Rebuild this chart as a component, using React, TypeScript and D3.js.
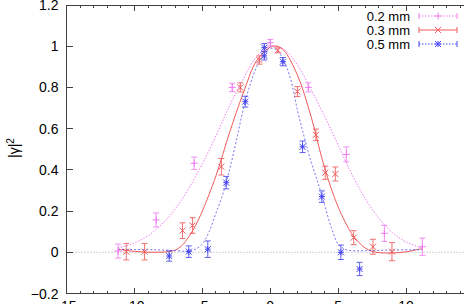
import React from 'react';
import * as d3 from 'd3';

const W = 464;
const H = 304;

// measured points
const pinkX = [-11.2, -8.4, -5.6, -2.8, 0, 2.8, 5.6, 8.4, 11.2];
const pinkY = [0.006, 0.157, 0.432, 0.8, 1.017, 0.8, 0.475, 0.092, 0.027];
const pinkErr = [0.034, 0.034, 0.03, 0.02, 0.016, 0.022, 0.036, 0.039, 0.042];

const redX = [-10.6, -9.25, -6.46, -5.72, -3.6, -2.2, -0.8, 0.56, 2.0, 3.36, 4.05, 4.79, 6.14, 7.56, 8.96];
const redY = [0.003, 0.003, 0.105, 0.13, 0.415, 0.8, 0.933, 0.98, 0.78, 0.57, 0.386, 0.38, 0.071, 0.027, 0.003];
const redErr = [0.04, 0.04, 0.038, 0.038, 0.04, 0.022, 0.02, 0.012, 0.024, 0.028, 0.032, 0.034, 0.034, 0.036, 0.044];

const blueX = [-7.44, -6.0, -4.6, -3.24, -1.84, -0.44, -0.44, 0.93, 2.38, 3.8, 5.2, 6.58];
const blueY = [-0.018, 0.003, 0.015, 0.338, 0.731, 0.993, 0.953, 0.925, 0.512, 0.27, 0.0, -0.081];
const blueErr = [0.025, 0.028, 0.04, 0.03, 0.026, 0.02, 0.02, 0.02, 0.028, 0.028, 0.035, 0.032];

// fitted curves
const pinkFitX = [-11.2, -10, -9, -8, -7, -6, -5, -4, -3, -2, -1, 0, 1, 2, 3, 4, 5, 6, 7, 8, 9, 10, 11.2];
const pinkFitY = [0.02, 0.045, 0.08, 0.135, 0.21, 0.31, 0.43, 0.565, 0.71, 0.84, 0.95, 1.0, 0.985, 0.91, 0.79, 0.66, 0.52, 0.38, 0.26, 0.165, 0.095, 0.05, 0.02];

const redFitX = [-11.2, -10.5, -9.5, -8.5, -7.5, -7, -6.5, -6, -5.5, -5, -4, -3, -2, -1, 0, 0.5, 1, 2, 3, 4, 5, 6, 6.5, 7, 7.5, 8, 9, 10, 10.6, 11.2];
const redFitY = [0.015, 0.008, 0.002, 0.0, 0.003, 0.01, 0.033, 0.075, 0.13, 0.2, 0.37, 0.58, 0.77, 0.93, 0.995, 1.0, 0.98, 0.86, 0.66, 0.41, 0.22, 0.09, 0.05, 0.02, 0.005, -0.002, -0.003, 0.002, 0.01, 0.018];

const blueFitX = [-11.2, -9, -8, -7, -6, -5.5, -5, -4.5, -4, -3.5, -3, -2.5, -2, -1.5, -1, -0.5, 0, 0.5, 1, 1.5, 2, 2.5, 3, 3.5, 4, 4.5, 5, 5.5, 6, 7, 9, 11.2];
const blueFitY = [0.014, 0.013, 0.011, 0.008, 0.006, 0.015, 0.04, 0.1, 0.19, 0.28, 0.4, 0.54, 0.69, 0.81, 0.9, 0.96, 0.99, 0.98, 0.93, 0.84, 0.69, 0.56, 0.44, 0.34, 0.23, 0.12, 0.04, 0.015, 0.008, 0.008, 0.011, 0.013];

const xTicks = [-15, -10, -5, 0, 5, 10, 15];
const yTicks = [-0.2, 0, 0.2, 0.4, 0.6, 0.8, 1, 1.2];
const legendLabels = ['0.2 mm', '0.3 mm', '0.5 mm'];

const PINK = '#f07cf0';
const RED = '#f05a5a';
const BLUE = '#4646f0';
const FONT = '"Liberation Sans", Arial, Helvetica, sans-serif';

const x = d3.scaleLinear().domain([-15, 15]).range([66.5, 474]);
const y = d3.scaleLinear().domain([-0.2, 1.2]).range([293.5, 5]);

const line = d3
  .line<[number, number]>()
  .x((d) => x(d[0]))
  .y((d) => y(d[1]))
  .curve(d3.curveCatmullRom.alpha(0.5));

function zip(a: number[], b: number[]): [number, number][] {
  return a.map((v, i) => [v, b[i]] as [number, number]);
}

function Marker({ cx, cy, kind, color }: { cx: number; cy: number; kind: string; color: string }) {
  const s = 3;
  if (kind === 'plus') {
    return (
      <g stroke={color} strokeWidth={1}>
        <line x1={cx - s - 0.5} x2={cx + s + 0.5} y1={cy} y2={cy} />
        <line x1={cx} x2={cx} y1={cy - s - 0.5} y2={cy + s + 0.5} />
      </g>
    );
  }
  if (kind === 'cross') {
    return (
      <g stroke={color} strokeWidth={1}>
        <line x1={cx - s} x2={cx + s} y1={cy - s} y2={cy + s} />
        <line x1={cx - s} x2={cx + s} y1={cy + s} y2={cy - s} />
      </g>
    );
  }
  return (
    <g stroke={color} strokeWidth={1}>
      <line x1={cx - s} x2={cx + s} y1={cy - s} y2={cy + s} />
      <line x1={cx - s} x2={cx + s} y1={cy + s} y2={cy - s} />
      <line x1={cx - s} x2={cx + s} y1={cy} y2={cy} />
      <line x1={cx} x2={cx} y1={cy - s} y2={cy + s} />
    </g>
  );
}

function Series({ xs, ys, es, kind, color }: { xs: number[]; ys: number[]; es: number[]; kind: string; color: string }) {
  return (
    <g>
      {xs.map((xv, i) => {
        const cx = x(xv);
        const y1 = y(ys[i] - es[i]);
        const y2 = y(ys[i] + es[i]);
        return (
          <g key={i}>
            <g stroke={color} strokeWidth={1} opacity={0.85}>
              <line x1={cx} x2={cx} y1={y1} y2={y2} />
              <line x1={cx - 3} x2={cx + 3} y1={y1} y2={y1} />
              <line x1={cx - 3} x2={cx + 3} y1={y2} y2={y2} />
            </g>
            <Marker cx={cx} cy={y(ys[i])} kind={kind} color={color} />
          </g>
        );
      })}
    </g>
  );
}

export default function App() {
  const left = x(-15);
  const right = x(15);
  const top = y(1.2);
  const bottom = y(-0.2);
  const minor = d3.range(-15, 16, 1);
  const legend = [
    { label: legendLabels[0], color: PINK, kind: 'plus', dash: '1.5,1.5' },
    { label: legendLabels[1], color: RED, kind: 'cross', dash: undefined },
    { label: legendLabels[2], color: BLUE, kind: 'star', dash: '1.5,1.5' },
  ];
  return (
    <div style={{ position: 'fixed', left: 0, top: 0 }}>
      <svg width={W} height={H} style={{ display: 'block', background: '#fff' }} fontFamily={FONT}>
        {/* zero line */}
        <line x1={left} x2={right} y1={y(0)} y2={y(0)} stroke="#a8a8a8" strokeWidth={1} strokeDasharray="1,2" />

        {/* frame */}
        <g stroke="#404040" strokeWidth={1} fill="none" shapeRendering="crispEdges">
          <rect x={left} y={top} width={right - left} height={bottom - top} />
          {minor.map((v) => {
            const major = v % 5 === 0;
            const len = major ? 6 : 3;
            return (
              <g key={'mx' + v}>
                <line x1={x(v)} x2={x(v)} y1={bottom} y2={bottom - len} />
                <line x1={x(v)} x2={x(v)} y1={top} y2={top + len} />
              </g>
            );
          })}
          {yTicks.map((v) => (
            <g key={'my' + v}>
              <line x1={left} x2={left + 6} y1={y(v)} y2={y(v)} />
              <line x1={right} x2={right - 6} y1={y(v)} y2={y(v)} />
            </g>
          ))}
        </g>

        {/* tick labels */}
        <g fontSize={14} fill="#000">
          {yTicks.map((v) => (
            <text key={'ty' + v} x={left - 8} y={y(v)} dy="0.36em" textAnchor="end">
              {d3.format('~g')(v)}
            </text>
          ))}
          {xTicks.map((v) => (
            <text key={'tx' + v} x={x(v)} y={311} textAnchor="middle">
              {v}
            </text>
          ))}
        </g>

        {/* y label */}
        <text transform={`translate(19,148) rotate(-90)`} textAnchor="middle" fontSize={14} fill="#000">
          |γ|<tspan dy="-5" fontSize={10}>2</tspan>
        </text>

        {/* fits */}
        <path d={line(zip(pinkFitX, pinkFitY)) || ''} fill="none" stroke={PINK} strokeWidth={1} strokeDasharray="1.5,1.5" />
        <path d={line(zip(redFitX, redFitY)) || ''} fill="none" stroke={RED} strokeWidth={1} />
        <path d={line(zip(blueFitX, blueFitY)) || ''} fill="none" stroke={BLUE} strokeWidth={1} strokeDasharray="2,2" opacity={0.75} />

        {/* data */}
        <Series xs={pinkX} ys={pinkY} es={pinkErr} kind="plus" color={PINK} />
        <Series xs={redX} ys={redY} es={redErr} kind="cross" color={RED} />
        <Series xs={blueX} ys={blueY} es={blueErr} kind="star" color={BLUE} />

        {/* legend */}
        <g>
          {legend.map((l, i) => {
            const cy = 16 + i * 14;
            return (
              <g key={l.label}>
                <text x={410} y={cy} dy="0.36em" textAnchor="end" fontSize={13} fill="#000">
                  {l.label}
                </text>
                <g stroke={l.color} strokeWidth={1}>
                  <line x1={419} x2={457} y1={cy} y2={cy} strokeDasharray={l.dash} />
                  <line x1={419} x2={419} y1={cy - 3} y2={cy + 3} />
                  <line x1={457} x2={457} y1={cy - 3} y2={cy + 3} />
                </g>
                <Marker cx={438} cy={cy} kind={l.kind} color={l.color} />
              </g>
            );
          })}
        </g>
      </svg>
    </div>
  );
}
